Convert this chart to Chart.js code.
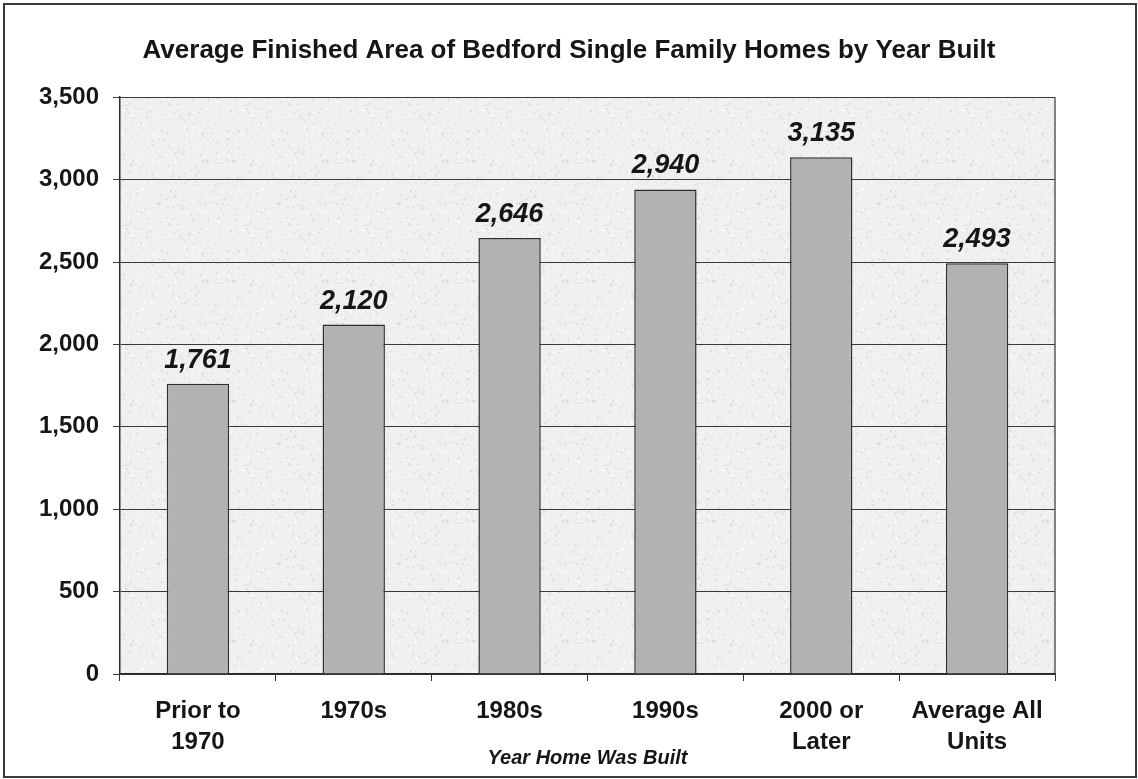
<!DOCTYPE html>
<html lang="en">
<head>
  <meta charset="UTF-8">
  <title>Average Finished Area of Bedford Single Family Homes</title>
  <script src="https://cdn.jsdelivr.net/npm/chart.js"></script>
  <style>
    html, body { margin: 0; padding: 0; background: #fff; }
    .wrap { position: relative; width: 1138px; height: 779px; }
  </style>
</head>
<body>
  <div class="wrap"><canvas id="areaChart" width="1138" height="779"></canvas></div>
  <script>
    // Chart data
    const categories = [['Prior to', '1970'], '1970s', '1980s', '1990s', ['2000 or', 'Later'], ['Average All', 'Units']];
    const avgArea = [1761, 2120, 2646, 2940, 3135, 2493];
    const yMin = 0;
    const yMax = 3500;
    const yStep = 500;

    const FONT = "'Liberation Sans', Arial, sans-serif";
    const INK = '#161616';

    // speckled paper texture for the plot area
    function makeSpeckle() {
      const c = document.createElement('canvas');
      c.width = 120; c.height = 120;
      const g = c.getContext('2d');
      g.fillStyle = '#f0f0f0';
      g.fillRect(0, 0, 120, 120);
      let s = 12345;
      const next = () => { s = (s * 1103515245 + 12345) % 2147483648; return s / 2147483648; };
      for (let i = 0; i < 900; i++) {
        const x = next() * 120, y = next() * 120;
        const v = Math.round(212 + next() * 43);
        g.fillStyle = `rgb(${v},${v},${v})`;
        g.fillRect(x, y, 1 + Math.round(next()), 1 + Math.round(next()));
      }
      return c;
    }
    const speckle = makeSpeckle();

    const pagePlugin = {
      id: 'page',
      beforeDraw(chart) {
        const { ctx, width, height, chartArea: a } = chart;
        ctx.save();
        ctx.fillStyle = '#fff';
        ctx.fillRect(0, 0, width, height);
        ctx.fillStyle = ctx.createPattern(speckle, 'repeat');
        ctx.fillRect(a.left, a.top, a.right - a.left, a.bottom - a.top);
        ctx.restore();
      },
      beforeDatasetsDraw(chart) {
        const { ctx, chartArea: a } = chart;
        ctx.save();
        ctx.strokeStyle = '#333';
        ctx.lineWidth = 1.2;
        ctx.beginPath();
        ctx.moveTo(a.right, a.top);
        ctx.lineTo(a.right, a.bottom);
        ctx.stroke();
        ctx.restore();
      },
      afterDraw(chart) {
        const { ctx, width, height } = chart;
        ctx.save();
        ctx.strokeStyle = '#3a3a3a';
        ctx.lineWidth = 2;
        ctx.strokeRect(4, 4, width - 6, height - 6);
        ctx.restore();
      }
    };

    // value labels above each bar
    const valueLabels = {
      id: 'valueLabels',
      afterDatasetsDraw(chart) {
        const { ctx } = chart;
        const meta = chart.getDatasetMeta(0);
        ctx.save();
        ctx.fillStyle = INK;
        ctx.font = `italic bold 27px ${FONT}`;
        ctx.textAlign = 'center';
        ctx.textBaseline = 'alphabetic';
        meta.data.forEach((bar, i) => {
          ctx.fillText(avgArea[i].toLocaleString('en-US'), bar.x, bar.y - 16);
        });
        ctx.restore();
      }
    };

    const ctx = document.getElementById('areaChart').getContext('2d');
    new Chart(ctx, {
      type: 'bar',
      data: {
        labels: categories,
        datasets: [{
          data: avgArea,
          backgroundColor: '#b2b2b2',
          borderColor: '#2e2e2e',
          borderWidth: 1.5,
          categoryPercentage: 1,
          barPercentage: 0.4
        }]
      },
      options: {
        responsive: false,
        animation: false,
        layout: { padding: 0 },
        plugins: {
          legend: { display: false },
          tooltip: { enabled: false },
          title: {
            display: true,
            text: 'Average Finished Area of Bedford Single Family Homes by Year Built',
            color: INK,
            font: { family: FONT, size: 26, weight: 'bold', lineHeight: 1.2 },
            padding: { top: 35, bottom: 31 }
          }
        },
        scales: {
          x: {
            offset: true,
            grid: {
              offset: true,
              drawOnChartArea: false,
              drawTicks: true,
              tickLength: 7,
              color: '#333'
            },
            border: { display: true, color: '#2a2a2a', width: 1.5 },
            ticks: {
              color: INK,
              maxRotation: 0,
              autoSkip: false,
              padding: 15,
              font: { family: FONT, size: 24, weight: 'bold', lineHeight: 1.3 }
            },
            title: {
              display: true,
              text: 'Year Home Was Built',
              color: INK,
              font: { family: FONT, size: 20, weight: 'bold', style: 'italic', lineHeight: 1.2 },
              padding: { top: 0, bottom: 9 }
            },
            afterFit(scale) { scale.height = 105; }
          },
          y: {
            min: yMin,
            max: yMax,
            grid: {
              color: '#3a3a3a',
              lineWidth: 1,
              tickLength: 7
            },
            border: { display: true, color: '#2a2a2a', width: 1.5 },
            ticks: {
              stepSize: yStep,
              color: INK,
              padding: 14,
              font: { family: FONT, size: 24, weight: 'bold' },
              callback: v => v.toLocaleString('en-US')
            },
            afterFit(scale) { scale.width = 120; }
          },
          // empty right-hand gutter so the plot ends short of the frame
          gutter: {
            position: 'right',
            display: true,
            grid: { display: false },
            border: { display: false },
            ticks: { display: false },
            afterFit(scale) { scale.width = 83; }
          }
        }
      },
      plugins: [pagePlugin, valueLabels]
    });
  </script>
</body>
</html>
